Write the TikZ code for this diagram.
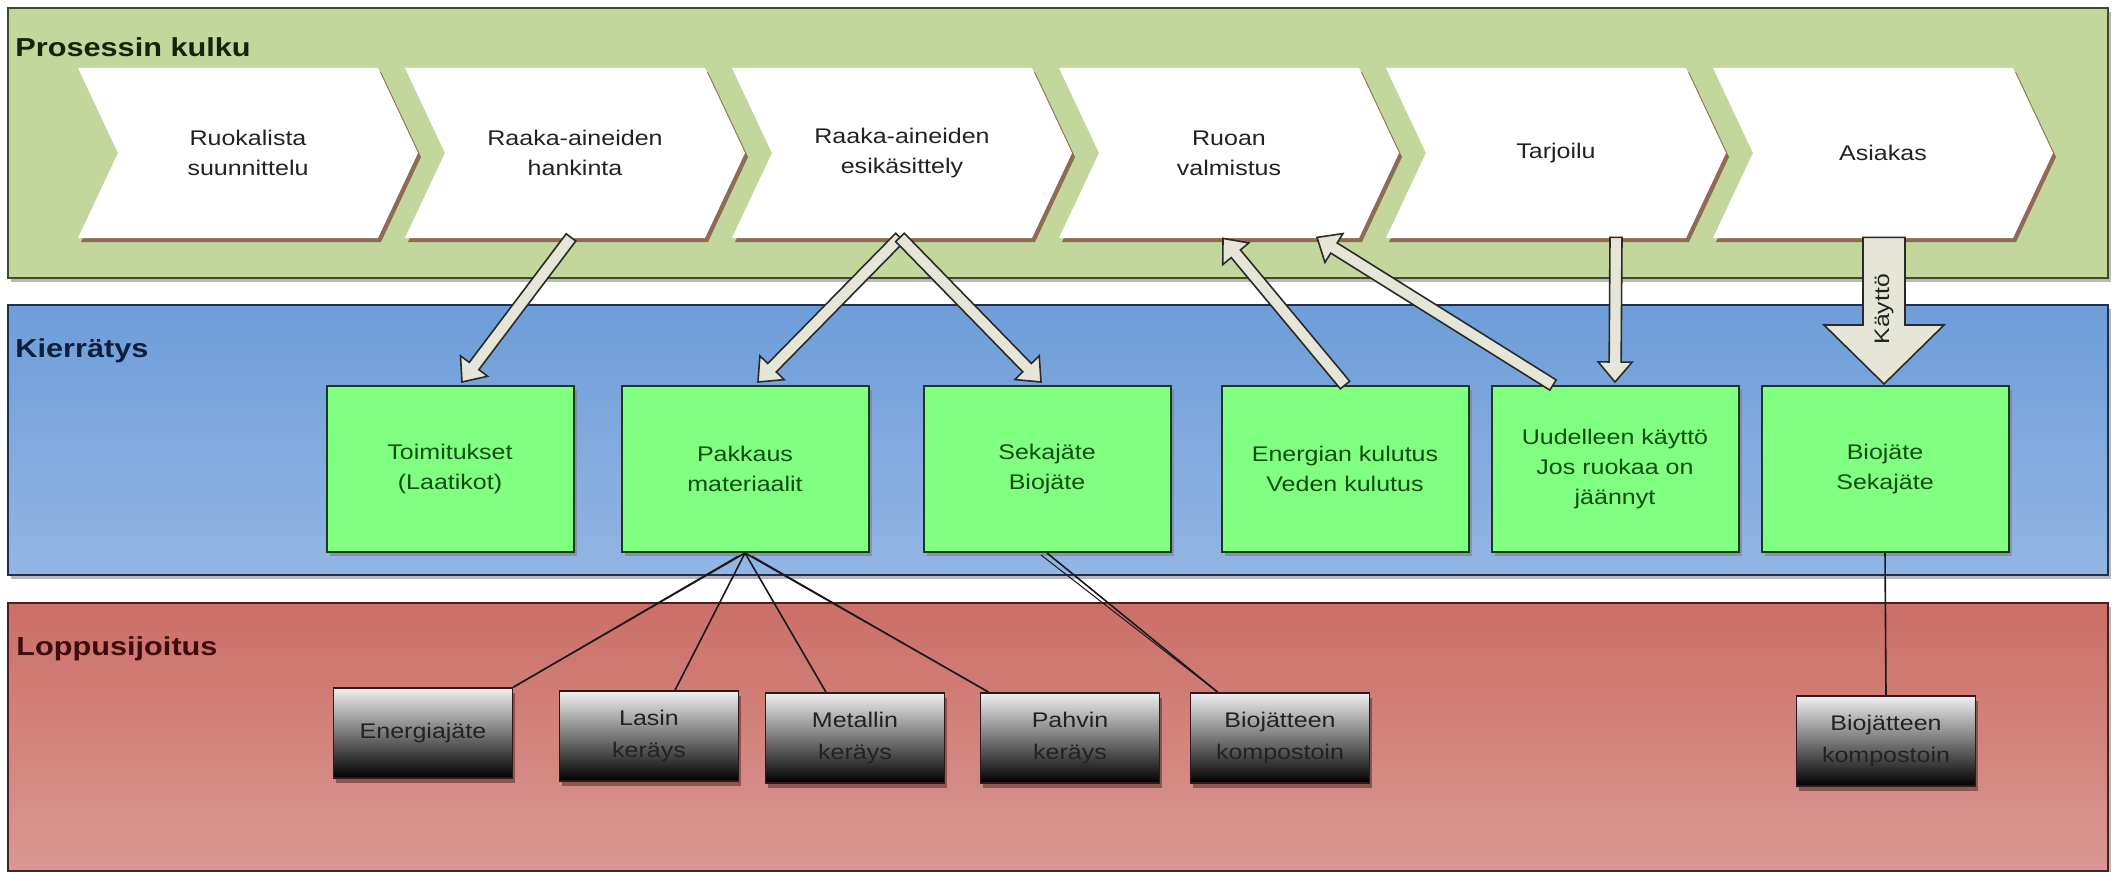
\documentclass[tikz,border=0pt]{standalone}
\usepackage{fontspec}
\setmainfont{Liberation Sans}[FakeStretch=1.18]
\usetikzlibrary{calc,shadows}
\definecolor{bandGfill}{HTML}{C3D69B}
\definecolor{bandGdraw}{HTML}{3F4A30}
\definecolor{bandBtop}{HTML}{6E9DD8}
\definecolor{bandBbot}{HTML}{93B6E4}
\definecolor{bandBdraw}{HTML}{1F2F4F}
\definecolor{bandRtop}{HTML}{CB6F67}
\definecolor{bandRbot}{HTML}{DA9893}
\definecolor{bandRdraw}{HTML}{4A2020}
\definecolor{kgreen}{HTML}{80FF80}
\definecolor{kborder}{HTML}{1C3A1C}
\definecolor{ktext}{HTML}{0F4D0F}
\definecolor{chevshadow}{HTML}{8F6A55}
\definecolor{arrowfill}{HTML}{E6E6D8}
\definecolor{arrowdraw}{HTML}{2A2A2A}
\definecolor{gborder}{HTML}{2E1A1A}
\definecolor{txtgray}{HTML}{222222}
\definecolor{labP}{HTML}{14240A}
\definecolor{labK}{HTML}{0D1F3C}
\definecolor{labL}{HTML}{3D0C0C}
\newcommand\mychev[3]{%
  \fill[chevshadow] ({#2+3},72) -- ++(300,0) -- ++(40,85) -- ++(-40,85) -- ++(-300,0) -- ++(40,-85) -- cycle;
  \fill[white] (#2,68) -- ++(300,0) -- ++(40,85) -- ++(-40,85) -- ++(-300,0) -- ++(40,-85) -- cycle;
  \node[chevtxt] (#1) at ({#2+170},153) {#3};}
\newcommand\blockarrow[5]{%
  \coordinate (bh) at ($(#2)!#5!(#1)$);
  \filldraw[barrow] ($(#1)!#3!90:(#2)$) -- ($(bh)!#3!90:(#2)$) -- ($(bh)!#4!90:(#2)$) -- (#2) -- ($(bh)!#4!-90:(#2)$) -- ($(bh)!#3!-90:(#2)$) -- ($(#1)!#3!-90:(#2)$) -- cycle;}
\begin{document}
\begin{tikzpicture}[x=0.5pt,y=-0.5pt,
  bandshadow/.style={drop shadow={shadow xshift=1.5pt,shadow yshift=-2pt,opacity=.55}},
  bandg/.style={draw=bandGdraw,line width=1pt,fill=bandGfill,minimum width=1050pt,minimum height=135pt,inner sep=0,bandshadow},
  bandb/.style={draw=bandBdraw,line width=1pt,top color=bandBtop,bottom color=bandBbot,minimum width=1050pt,minimum height=135pt,inner sep=0,bandshadow},
  bandr/.style={draw=bandRdraw,line width=1pt,top color=bandRtop,bottom color=bandRbot,minimum width=1050pt,minimum height=134pt,inner sep=0,bandshadow},
  bandlabel/.style={anchor=base west,inner sep=0,font=\bfseries\fontsize{13}{15}\selectfont},
  chevtxt/.style={inner sep=0,minimum width=150pt,minimum height=85pt,align=center,font=\fontsize{10.6}{15}\selectfont,text=txtgray},
  kbox/.style={draw=kborder,line width=1pt,fill=kgreen,minimum width=123.5pt,minimum height=83pt,inner sep=0,align=center,font=\fontsize{10.6}{15}\selectfont,text=ktext,drop shadow={shadow xshift=1.5pt,shadow yshift=-2pt,opacity=.6}},
  gbox/.style={draw=gborder,line width=0.8pt,top color=white!94!black,bottom color=black,minimum width=89.5pt,minimum height=45pt,inner sep=0,align=center,font=\fontsize{10.6}{16}\selectfont,text=txtgray,drop shadow={shadow xshift=1pt,shadow yshift=-2.5pt,opacity=.5,fill=bandRdraw}},
  conn/.style={draw=black!90,line width=0.8pt},
  barrow/.style={fill=arrowfill,draw=arrowdraw,line width=0.8pt,line join=miter}]
\useasboundingbox (0,0) rectangle (2114,872);
\fill[white] (0,0) rectangle (2114,872);
% bands
\node[bandg] (bandP) at (1058,143) {};
\node[bandb] (bandK) at (1058,440) {};
\node[bandr] (bandL) at (1058,737) {};
\node[bandlabel,text=labP] (lp) at (15,57) {Prosessin kulku};
\node[bandlabel,text=labK] (lk) at (15,357) {Kierrätys};
\node[bandlabel,text=labL] (ll) at (16,655) {Loppusijoitus};
% chevrons
\mychev{c1}{78}{Ruokalista\\suunnittelu}
\mychev{c2}{405}{Raaka-aineiden\\hankinta}
\mychev{c3}{732}{Raaka-aineiden\\esikäsittely}
\mychev{c4}{1059}{Ruoan\\valmistus}
\mychev{c5}{1386}{Tarjoilu}
\mychev{c6}{1713}{Asiakas}
% recycling boxes
\node[kbox] (k1) at (450,469) {Toimitukset\\(Laatikot)};
\node[kbox] (k2) at (745,469) {Pakkaus\\materiaalit};
\node[kbox] (k3) at (1047,469) {Sekajäte\\Biojäte};
\node[kbox] (k4) at (1345,469) {Energian kulutus\\Veden kulutus};
\node[kbox] (k5) at (1615,469) {Uudelleen käyttö\\Jos ruokaa on\\jäännyt};
\node[kbox] (k6) at (1885,469) {Biojäte\\Sekajäte};
% final disposal boxes
\node[gbox] (g1) at (423,733) {Energiajäte};
\node[gbox] (g2) at (649,736) {Lasin\\keräys};
\node[gbox] (g3) at (855,738) {Metallin\\keräys};
\node[gbox] (g4) at (1070,738) {Pahvin\\keräys};
\node[gbox] (g5) at (1280,738) {Biojätteen\\kompostoin};
\node[gbox] (g6) at (1886,741) {Biojätteen\\kompostoin};
% thin connectors
\draw[conn] (k2.south) -- (g1.north east);
\draw[conn,line width=0.5pt] ($(k2.south)+(-7,3)$) -- (g1.north east);
\draw[conn] (k2.south) -- ($(g2.north)+(26,0)$);
\draw[conn] (k2.south) -- ($(g3.north)+(-29,0)$);
\draw[conn] (k2.south) -- ($(g4.north west)+(9,0)$);
\draw[conn,line width=0.5pt] ($(k2.south)+(7,3)$) -- ($(g4.north west)+(9,0)$);
\draw[conn] (k3.south) -- ($(g5.north west)+(28,0)$);
\draw[conn,line width=0.5pt] ($(k3.south)+(-6,2)$) -- ($(g5.north west)+(28,0)$);
\draw[conn] (k6.south) -- (g6.north);
% block arrows
\coordinate (a1s) at ($(c2.south)+(-4,-1)$);
\coordinate (a1e) at ($(k1.north)+(12,-3)$);
\coordinate (a2s) at ($(c3.south)+(-2,-1)$);
\coordinate (a2e) at ($(k2.north)+(13,-3)$);
\coordinate (a3e) at ($(k3.north)+(-6,-3)$);
\coordinate (a4s) at (k4.north);
\coordinate (a4e) at ($(c4.south)+(-6,0)$);
\coordinate (a5s) at ($(k5.north)+(-62,0)$);
\coordinate (a5e) at ($(c4.south)+(88,-1)$);
\coordinate (a6s) at ($(c5.south)+(60,-1)$);
\coordinate (a6e) at ($(k5.north)+(0,-3)$);
\coordinate (a7s) at ($(c6.south)+(1,-1)$);
\coordinate (a7e) at ($(k6.north)+(-1,-1)$);
\blockarrow{a1s}{a1e}{3pt}{8.5pt}{10pt}
\blockarrow{a2s}{a2e}{3pt}{8.5pt}{10pt}
\blockarrow{a2s}{a3e}{3pt}{8.5pt}{10pt}
\blockarrow{a4s}{a4e}{3pt}{8.5pt}{10pt}
\blockarrow{a5s}{a5e}{3pt}{8.5pt}{10pt}
\blockarrow{a6s}{a6e}{3pt}{8.5pt}{10pt}
\blockarrow{a7s}{a7e}{10.5pt}{30pt}{29.5pt}
\node[rotate=90,inner sep=0,font=\fontsize{10.5}{12}\selectfont,text=txtgray] (kt) at ($(a7s)!0.49!(a7e)$) {Käyttö};
\end{tikzpicture}
\end{document}
